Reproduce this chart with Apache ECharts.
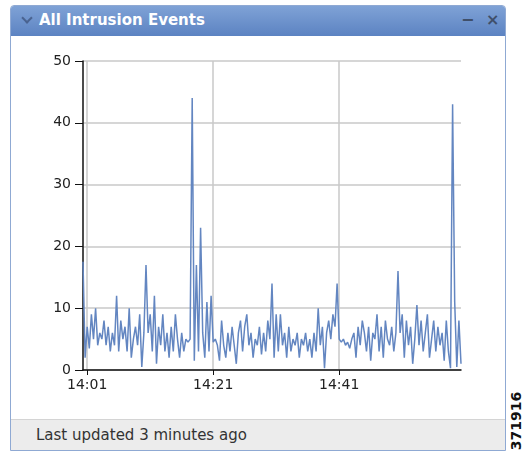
<!DOCTYPE html>
<html>
<head>
<meta charset="utf-8">
<script src="https://cdn.jsdelivr.net/npm/echarts@6/dist/echarts.min.js"></script>
<style>
  html, body { margin: 0; padding: 0; background: #fff; }
  body { width: 527px; height: 453px; position: relative; overflow: hidden; font-family: "DejaVu Sans", sans-serif; }
  .panel { position: absolute; left: 10px; top: 5px; width: 496px; height: 446px; border: 1px solid #8fa9d3; border-radius: 4px 4px 0 0; background: #fff; box-sizing: border-box; }
  .head { position: absolute; left: 0; top: 0; right: 0; height: 30px; background: linear-gradient(#7fa2d6, #5c83c2); border-radius: 3px 3px 0 0; }
  .chev { position: absolute; left: 12px; top: 8px; width: 6px; height: 6px; border-right: 2px solid #4a6390; border-bottom: 2px solid #4a6390; transform: rotate(45deg); }
  .title { position: absolute; left: 28px; top: 5px; color: #fff; font-weight: bold; font-size: 15px; }
  .btn { position: absolute; top: 4px; color: #3f4f6a; font-weight: bold; font-size: 16px; }
  .foot { position: absolute; left: 0; right: 0; bottom: 0; height: 30px; background: #ececec; border-top: 1px solid #d4d4d4; }
  .foot span { position: absolute; left: 25px; top: 6px; font-size: 15px; color: #333; }
  .code { position: absolute; left: 516px; top: 421px; transform: translate(-50%, -50%) rotate(-90deg); font-size: 14px; font-weight: bold; color: #111; white-space: nowrap; }
  #chart { position: absolute; left: 0; top: 0; width: 527px; height: 453px; }
</style>
</head>
<body>
<div class="panel">
  <div class="head">
    <div class="chev"></div>
    <div class="title">All Intrusion Events</div>
    <div class="btn" style="left:450px">&minus;</div>
    <div class="btn" style="left:475px">&times;</div>
  </div>
  <div class="foot"><span>Last updated 3 minutes ago</span></div>
</div>
<div class="code">371916</div>
<div id="chart"></div>
<script>
// one sample every 20 s, first one at 14:00:20
var startSec = 14 * 3600 + 20
var stepSec = 20
var tickLabels = ['14:01', '14:21', '14:41']
var yTicks = [0, 10, 20, 30, 40, 50]

var events = [
  17.5, 2, 7, 3.5, 9, 5, 10, 4, 6, 5, 8, 4, 7, 3, 6, 4, 12, 3, 8, 5,
  7, 3, 10, 2, 5, 7, 4, 9, 0.5, 6, 17, 6, 9, 3, 12, 1, 7, 4, 9, 3,
  6, 2, 7, 3, 9, 5, 2, 6, 3, 5, 4.5, 5, 44, 1.5, 17, 3, 23, 6, 2, 11,
  3, 12, 4.5, 5, 4, 1.5, 8, 4, 2, 6, 3, 7, 4, 1, 6, 8, 3, 7, 9, 4,
  6, 2, 5, 4, 7, 2.5, 6, 3, 8, 5, 14, 2, 9, 3, 9, 4, 6, 2, 7, 3,
  5, 4, 6, 2, 5, 4, 6, 3, 5, 2, 6, 3, 10, 4, 7, 0.3, 6, 8, 5, 9,
  7, 14, 5, 4.5, 5, 4, 4.5, 3.5, 5, 6, 2, 7, 4, 8, 6, 3, 7, 1.5, 6, 5,
  9, 3, 7, 2, 8, 5, 4, 7, 3, 6, 16, 6, 9, 2, 8, 4, 7, 1, 5, 10.5,
  4, 8, 3, 6, 9, 2, 5, 8, 3, 7, 4, 6, 1.5, 8, 3, 0.3, 43, 11, 0.5, 8,
  1
]

function pad(n) { return (n < 10 ? '0' : '') + n }
var times = events.map(function (v, i) {
  var s = startSec + i * stepSec
  return pad(Math.floor(s / 3600)) + ':' + pad(Math.floor(s / 60) % 60) + ':' + pad(s % 60)
})

function isTick(index, value) {
  return value.slice(6) === '00' && tickLabels.indexOf(value.slice(0, 5)) >= 0
}

var chart = echarts.init(document.getElementById('chart'), null, { renderer: 'canvas' })
chart.setOption({
  animation: false,
  backgroundColor: 'transparent',
  grid: { left: 83, right: 66, top: 61, bottom: 83, outerBoundsMode: 'none', containLabel: false },
  xAxis: {
    type: 'category',
    data: times,
    boundaryGap: false,
    axisLine: { lineStyle: { color: '#111', width: 1.5 } },
    axisTick: { interval: isTick, length: 5, lineStyle: { color: '#111' } },
    axisLabel: {
      interval: isTick,
      formatter: function (v) { return v.slice(0, 5) },
      color: '#222', fontSize: 14, fontFamily: 'DejaVu Sans', margin: 8
    },
    splitLine: { show: true, interval: isTick, lineStyle: { color: '#c8c8c8', width: 1.5 } }
  },
  yAxis: {
    type: 'value',
    min: yTicks[0],
    max: yTicks[yTicks.length - 1],
    interval: 10,
    axisLine: { show: true, lineStyle: { color: '#111', width: 1.5 } },
    axisTick: { show: true, length: 8, lineStyle: { color: '#111' } },
    axisLabel: { color: '#222', fontSize: 14, fontFamily: 'DejaVu Sans', margin: 12 },
    splitLine: { lineStyle: { color: '#c8c8c8', width: 1.5 } }
  },
  series: [{
    name: 'Events',
    type: 'line',
    data: events,
    symbol: 'none',
    lineStyle: { color: '#6386c1', width: 1.5 }
  }]
})
</script>
</body>
</html>
